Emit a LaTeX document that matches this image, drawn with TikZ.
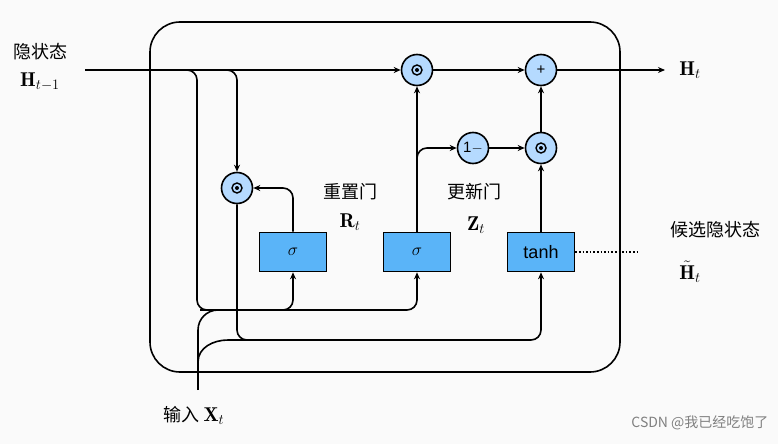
\documentclass[tikz,border=0pt]{standalone}
\usepackage{fontspec}
\newfontfamily\cjk{Noto Sans CJK SC}
\setsansfont{Liberation Sans}
\usetikzlibrary{arrows.meta}
\definecolor{circfill}{HTML}{B5DAFF}
\definecolor{boxfill}{HTML}{5AB4F8}
\tikzset{
  every node/.style={font=\fontsize{20}{22}\selectfont},
  wire/.style={line width=1.6pt},
  arr/.style={wire,-{Stealth[length=7pt,width=6pt]}},
  opc/.style={circle,draw,line width=1.6pt,fill=circfill,minimum size=31pt,inner sep=0pt,font=\sffamily\fontsize{15}{15}\selectfont},
  gate/.style={rectangle,draw,line width=1.6pt,fill=boxfill,minimum width=67pt,minimum height=39pt,font=\sffamily\fontsize{18}{18}\selectfont},
  lbl/.style={font=\cjk\fontsize{18}{20}\selectfont},
  rc/.style={rounded corners=10pt}
}
\newcommand{\odotsym}{\tikz[baseline=-0.5ex]{\draw[line width=1.4pt] (0,0) circle (5pt); \fill (0,0) circle (2pt);}}
\begin{document}
\begin{tikzpicture}[x=1pt,y=-1pt]
\fill[white!98!black] (0,0) rectangle (778,444);
\useasboundingbox (0,0) rectangle (778,444);
\draw[line width=1.6pt,rounded corners=30pt] (150,22) rectangle (620,372);
% nodes
\node[opc] (m1) at (417,70) {\odotsym};
\node[opc] (pl) at (541,70) {+};
\node[opc] (om) at (473,148) {1$-$};
\node[opc] (m2) at (541,148) {\odotsym};
\node[opc] (mr) at (237,188) {\odotsym};
\node[gate] (s1) at (293,252) {$\sigma$};
\node[gate] (s2) at (417,252) {$\sigma$};
\node[gate] (th) at (541,252) {tanh};
\coordinate (hin) at (85,70);
\coordinate (hout) at (665,70);
\coordinate (xin) at (198,390);
\coordinate (dot) at (640,252);
% wires
\draw[arr] (hin) -- (m1);
\draw[arr] (pl) -- (hout);
\draw[arr] (m1) -- (pl);
\draw[arr] (m2) -- (pl);
\draw[arr] (om) -- (m2);
\draw[arr] (th) -- (m2);
\draw[arr] (s2) -- (m1);
\draw[arr,rc] (417,170) |- (om);
\draw[arr,rc] (s1.north) |- (mr);
\draw[arr,rc] (150,70) -| (mr);
\draw[wire,rc] (150,70) -| (197,310) -- (260,310);
\draw[arr,rc] (200,310) -| (s1);
\draw[arr,rc] (260,310) -| (s2);
\draw[wire,rc] (mr) |- (300,340);
\draw[arr,rc] (300,340) -| (th);
\draw[wire] (xin) -- (198,330);
\draw[wire] (198,330) to[out=90,in=180] (218,310);
\draw[wire] (198,362) to[out=90,in=180] (228,340) -- (300,340);
\draw[wire,dotted,line width=1.4pt] (th) -- (dot);
% labels
\node[lbl] (l1) at (40,52) {隐状态};
\node (l2) at (40,82) {$\mathbf{H}_{t-1}$};
\node (l3) at (690,70) {$\mathbf{H}_t$};
\node[lbl] (l4) at (350,192) {重置门};
\node (l5) at (350,222) {$\mathbf{R}_t$};
\node[lbl] (l6) at (474,192) {更新门};
\node (l7) at (476,225) {$\mathbf{Z}_t$};
\node[lbl] (l8) at (715,230) {候选隐状态};
\node (l9) at (690,272) {$\tilde{\mathbf{H}}_t$};
\node[lbl,anchor=west] (l10) at (160,415) {输入\ \rmfamily\fontsize{20}{22}\selectfont$\mathbf{X}_t$};
\node[lbl,gray,anchor=east] (wm) at (772,423) {\fontsize{14}{15}\selectfont CSDN @我已经吃饱了};
\end{tikzpicture}
\end{document}
